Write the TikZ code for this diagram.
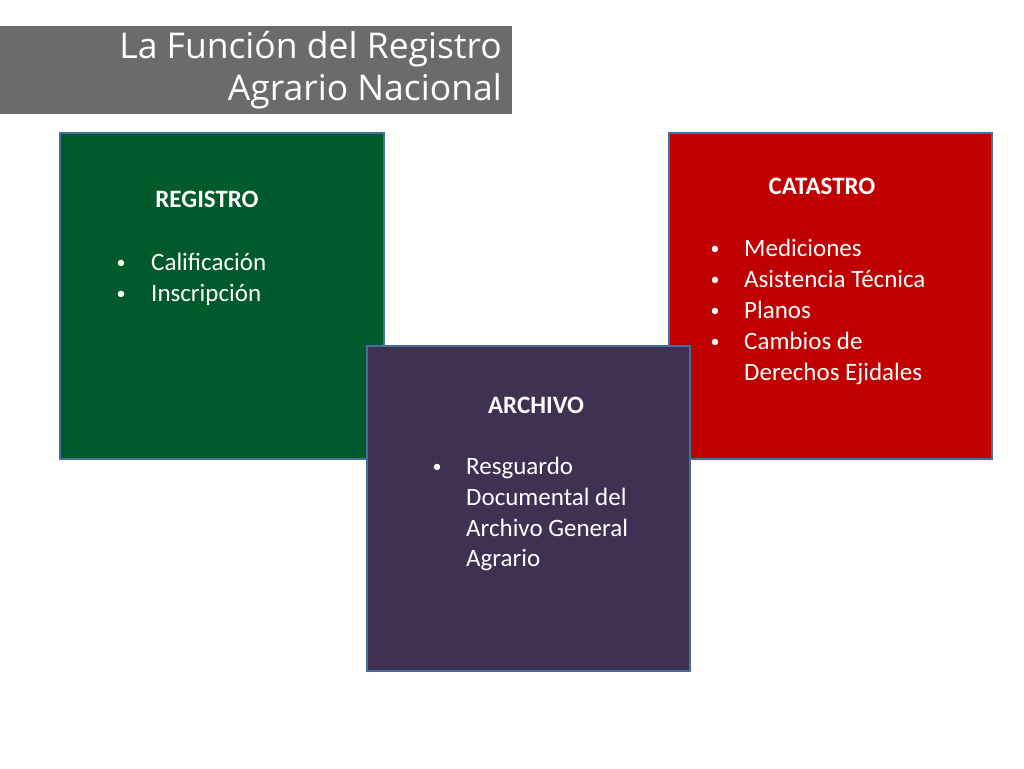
\documentclass[tikz,border=0pt]{standalone}
\usepackage{fontspec}
\setmainfont{Carlito}
\newfontfamily\titlefont{Open Sans}
\definecolor{titlegray}{HTML}{6B6B6B}
\definecolor{boxedge}{HTML}{41719C}
\definecolor{regreen}{HTML}{005A2B}
\definecolor{catred}{HTML}{C00000}
\definecolor{arcpurple}{HTML}{403152}
\begin{document}
\begin{tikzpicture}[x=1pt,y=-1pt,
  panel/.style={draw=boxedge,line width=2pt,inner sep=0pt},
  head/.style={text=white,font=\fontsize{25}{30}\selectfont\bfseries,anchor=base,inner sep=0pt},
  item/.style={text=white,font=\fontsize{25}{30}\selectfont,anchor=base west,inner sep=0pt},
  dot/.style={text=white,font=\fontsize{18}{22}\selectfont,anchor=base,inner sep=0pt,yshift=2pt},
  ttl/.style={text=white,font=\titlefont\fontsize{35.5}{40}\selectfont,anchor=base east,inner sep=0pt}]
\useasboundingbox (0,0) rectangle (1024,768);
\fill[white] (0,0) rectangle (1024,768);
% title
\fill[titlegray] (0,26) rectangle (512,114);
\node[ttl] (t1) at (502,59) {La Función del Registro};
\node[ttl] (t2) at (502,100) {Agrario Nacional};
% boxes
\filldraw[panel,fill=regreen] (60,133) rectangle (384,459);
\filldraw[panel,fill=catred] (669,133) rectangle (992,459);
\filldraw[panel,fill=arcpurple] (367,346) rectangle (690,671);
% REGISTRO
\node[head] (rh) at (207,207) {REGISTRO};
\node[dot] (rb1) at (121,270) {•};
\node[item] (r1) at (151,270) {Calificación};
\node[dot] (rb2) at (121,301) {•};
\node[item] (r2) at (151,301) {Inscripción};
% CATASTRO
\node[head] (ch) at (822,194) {CATASTRO};
\node[dot] (cb1) at (715,256) {•};
\node[item] (c1) at (744,256) {Mediciones};
\node[dot] (cb2) at (715,287) {•};
\node[item] (c2) at (744,287) {Asistencia Técnica};
\node[dot] (cb3) at (715,318) {•};
\node[item] (c3) at (744,318) {Planos};
\node[dot] (cb4) at (715,349) {•};
\node[item] (c4) at (744,349) {Cambios de};
\node[item] (c5) at (744,380) {Derechos Ejidales};
% ARCHIVO
\node[head] (ah) at (536,413) {ARCHIVO};
\node[dot] (ab1) at (437,474) {•};
\node[item] (a1) at (466,474) {Resguardo};
\node[item] (a2) at (466,505) {Documental del};
\node[item] (a3) at (466,536) {Archivo General};
\node[item] (a4) at (466,566) {Agrario};
\end{tikzpicture}
\end{document}
